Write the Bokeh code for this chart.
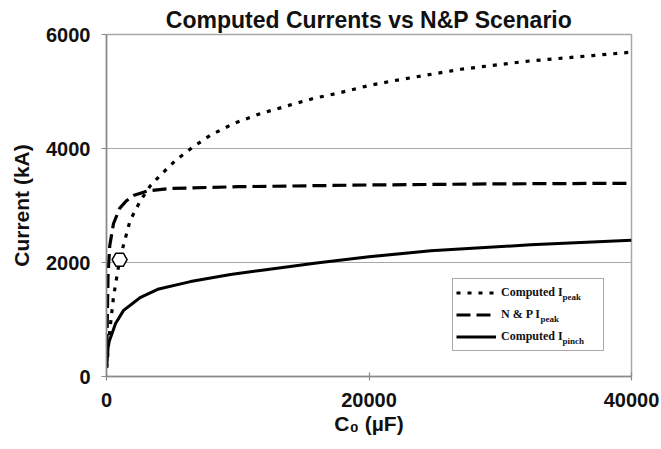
from bokeh.plotting import figure
from bokeh.models import Range1d, Legend, LegendItem, Label, FixedTicker
from bokeh.embed import file_html
from bokeh.resources import INLINE

# Computed I_peak (dotted)
c_peak = [10, 250, 530, 1000, 1800, 2600, 3350, 4100, 5250, 6550, 7900, 9700, 11700,
          13800, 15800, 17800, 19900, 21900, 27000, 32000, 37000, 40000]
i_peak = [150, 800, 1390, 2050, 2740, 3090, 3350, 3530, 3790, 4020, 4230, 4440, 4610,
          4750, 4880, 4980, 5100, 5190, 5390, 5530, 5630, 5690]

# N & P I_peak (dashed)
c_np = [10, 60, 120, 250, 530, 1000, 1500, 2050, 3200, 5000, 10000, 20000, 30000, 40000]
i_np = [150, 1000, 1800, 2300, 2680, 2950, 3080, 3175, 3260, 3300, 3330, 3360, 3380, 3390]

# Computed I_pinch (solid)
c_pinch = [10, 150, 690, 1300, 2600, 3900, 6400, 9450, 12000, 16000, 20000, 24700, 32300, 40000]
i_pinch = [190, 580, 930, 1160, 1390, 1530, 1665, 1790, 1870, 1990, 2100, 2205, 2310, 2390]

# N&P scenario point
marker_c = [1000]
marker_i = [2050]

x_ticks = [0, 20000, 40000]
y_ticks = [0, 2000, 4000, 6000]

title_text = "Computed Currents vs N&P Scenario"
legend_main = ["Computed I", "N & P I", "Computed I"]
legend_sub = ["peak", "peak", "pinch"]

SANS = "Liberation Sans"
SERIF = "Liberation Serif"

p = figure(width=661, height=449, x_range=Range1d(0, 40000), y_range=Range1d(0, 6000),
           output_backend="svg", toolbar_location=None, title=title_text,
           min_border_left=106, min_border_right=30, min_border_top=34, min_border_bottom=73)

p.background_fill_color = "white"
p.border_fill_color = "white"
p.outline_line_color = "#a8a8a8"
p.outline_line_width = 1.5

p.title.text_font = SANS
p.title.text_font_size = "23px"
p.title.text_font_style = "bold"
p.title.align = "center"
p.title.text_color = "#111111"
p.title.standoff = 4

p.xgrid.grid_line_color = None
p.ygrid.grid_line_color = "#a8a8a8"
p.ygrid.grid_line_width = 1.2

p.xaxis.ticker = FixedTicker(ticks=x_ticks)
p.yaxis.ticker = FixedTicker(ticks=y_ticks)
for ax in (p.xaxis[0], p.yaxis[0]):
    ax.major_label_text_font = SANS
    ax.major_label_text_font_size = "20px"
    ax.major_label_text_font_style = "bold"
    ax.major_label_text_color = "#111111"
    ax.axis_label_text_font = SANS
    ax.axis_label_text_font_style = "bold"
    ax.axis_label_text_color = "#111111"
    ax.minor_tick_line_color = None
    ax.axis_line_color = "#8a8a8a"
    ax.axis_line_width = 1.5
    ax.major_tick_line_color = "#8a8a8a"
    ax.major_tick_line_width = 1.2

p.xaxis.major_tick_in = 4
p.xaxis.major_tick_out = 4
p.yaxis.major_tick_in = 0
p.yaxis.major_tick_out = 5
p.xaxis.major_label_standoff = 12
p.yaxis.major_label_standoff = 11

p.xaxis.axis_label = "C\u2080 (\u00b5F)"
p.xaxis.axis_label_text_font_size = "21px"
p.xaxis.axis_label_standoff = 2
p.yaxis.axis_label = "Current (kA)"
p.yaxis.axis_label_text_font_size = "21px"
p.yaxis.axis_label_standoff = 10

r_peak = p.line(c_peak, i_peak, line_color="black", line_width=3.2, line_dash="4 7")
r_np = p.line(c_np, i_np, line_color="black", line_width=3.2, line_dash="14 6")
r_pinch = p.line(c_pinch, i_pinch, line_color="black", line_width=3)
p.scatter(marker_c, marker_i, marker="hex", size=15, fill_color="white",
          line_color="black", line_width=1.5)

legend = Legend(items=[LegendItem(label=legend_main[0], renderers=[r_peak]),
                       LegendItem(label=legend_main[1], renderers=[r_np]),
                       LegendItem(label=legend_main[2], renderers=[r_pinch])],
                location=(346, 25), padding=3, spacing=1, glyph_height=21, glyph_width=40,
                label_standoff=5, label_width=99, margin=0,
                border_line_color="#555555", border_line_width=1.5,
                background_fill_color="white", background_fill_alpha=0.0,
                label_text_font=SERIF, label_text_font_style="bold",
                label_text_font_size="12px", label_text_color="#111111")
p.add_layout(legend)

sub_x = [456, 434, 456]
sub_y = [79.5, 57.5, 35.5]
for txt, sx, sy in zip(legend_sub, sub_x, sub_y):
    p.add_layout(Label(x=sx, y=sy, x_units="screen", y_units="screen", text=txt,
                       text_font=SERIF, text_font_style="bold", text_font_size="9px",
                       text_baseline="middle", text_color="#111111", level="overlay"))

open("out.html", "w").write(file_html(p, INLINE))
